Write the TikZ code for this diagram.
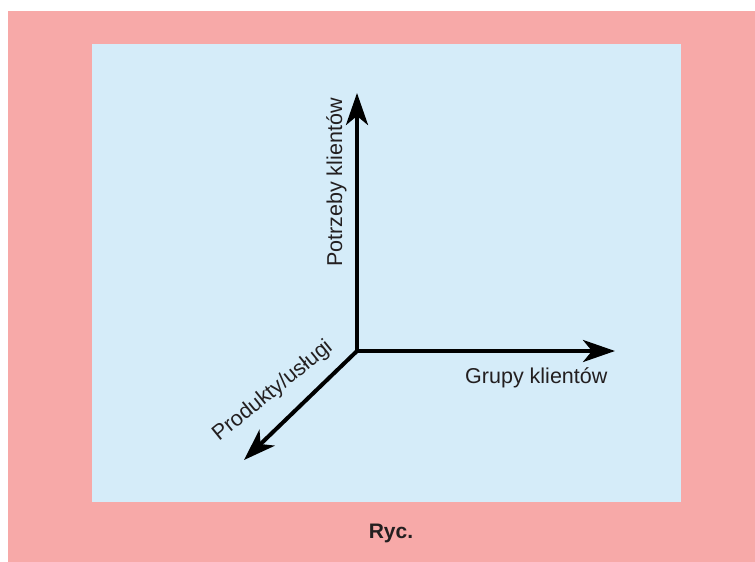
\documentclass[tikz,border=0pt]{standalone}
\usepackage{fontspec}
\setmainfont{Liberation Sans}
\usetikzlibrary{arrows.meta}
\definecolor{framepink}{HTML}{F7A9A8}
\definecolor{panelblue}{HTML}{D5ECF9}
\definecolor{inkgray}{HTML}{231F20}

\begin{document}
\begin{tikzpicture}[x=1pt,y=-1pt,
  axis/.style={line width=4pt, draw=black, -{Stealth[length=32pt,width=22pt,inset=9pt]}},
  axlabel/.style={font=\fontsize{21.5}{25}\selectfont, text=inkgray, inner sep=0pt},
  caption/.style={font=\fontsize{21}{25}\selectfont\bfseries, text=inkgray, inner sep=0pt}]
\useasboundingbox (0,0) rectangle (755,562);
% frame and panel
\fill[framepink] (8,11) rectangle (755,562);
\fill[panelblue] (92,44) rectangle (681,502);

% axes
\coordinate (O) at (357,351);
\coordinate (up) at (357,93);
\coordinate (right) at (615,351);
\coordinate (diag) at (244,460);
\draw[axis] (O) -- (up);
\draw[axis] (O) -- (right);
\draw[axis] (O) -- (diag);
\fill (355,349) rectangle (359,353);

% axis labels
\node[axlabel, rotate=90, anchor=base west] (needs) at (342,267) {Potrzeby klientów};
\node[axlabel, anchor=base west] (groups) at (465,383) {Grupy klientów};
\node[axlabel, rotate=39, anchor=base west] (products) at (219,442) {Produkty/usługi};

% caption
\node[caption, anchor=base] (cap) at (391,538) {Ryc.};
\end{tikzpicture}
\end{document}
